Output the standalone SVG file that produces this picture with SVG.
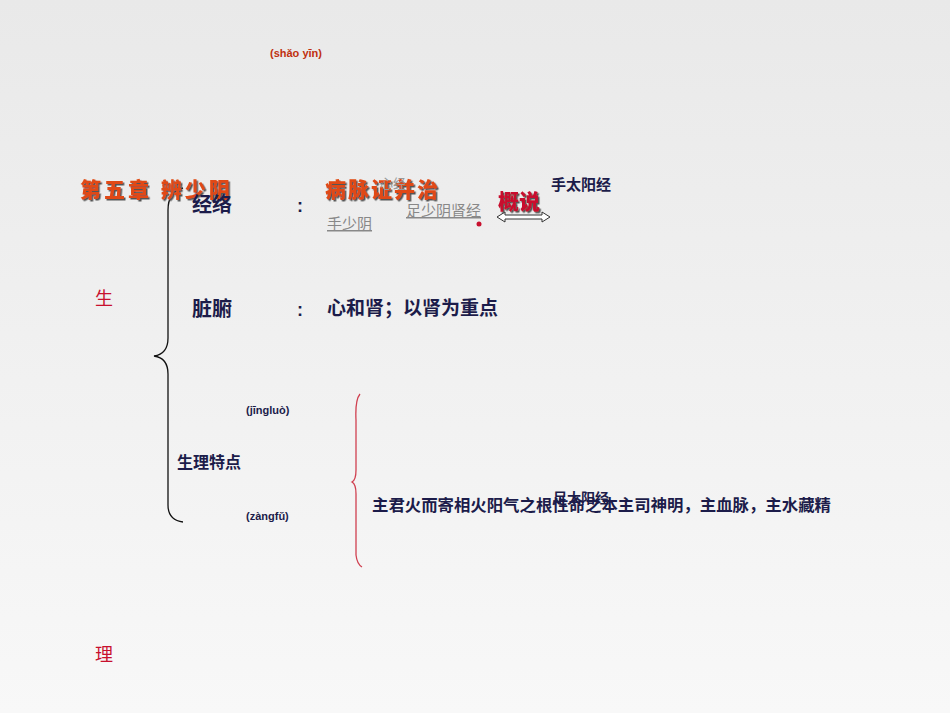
<svg xmlns="http://www.w3.org/2000/svg" width="950" height="713" viewBox="0 0 950 713">
<defs>
<linearGradient id="bg" x1="0" y1="0" x2="0" y2="1"><stop offset="0" stop-color="#e9e9e9"/><stop offset="1" stop-color="#f8f8f8"/></linearGradient>
<filter id="sh"><feDropShadow dx="1.5" dy="1.5" stdDeviation="0.5" flood-color="#555"/></filter>
</defs>
<style>
text{font-family:"Liberation Sans","Noto Sans CJK SC",sans-serif}
.d{fill:#1c1c4a;font-weight:bold}
.r{fill:#c8102e}
.o{fill:#e04a14;font-weight:900;font-size:21px;letter-spacing:3px;filter:url(#sh)}
.g{fill:#888;font-size:15px;text-decoration:underline}
.p{fill:#1c1c4a;font-size:11px;font-weight:bold}
</style>
<rect width="950" height="713" fill="url(#bg)"/>
<text x="270" y="57" font-size="11" fill="#c03010" font-weight="bold">(shǎo yīn)</text>
<g id="connectors" fill="none">
<path d="M183,188 Q168,192 168,210 L168,338 Q168,354 154,356 Q168,358 168,374 L168,505 Q168,520 183,522" stroke="#111" stroke-width="1.3"/>
<path d="M360,394 Q355,400 356,420 L356,470 Q356,480 352,482 Q356,484 356,494 L356,555 Q357,564 362,567" stroke="#d04050" stroke-width="1.3"/>
<path d="M497,217 L505,212 L505,215 L542,215 L542,212 L550,217 L542,222 L542,219 L505,219 L505,222 Z" stroke="#333" stroke-width="1" fill="#fff"/>
<circle cx="479" cy="224" r="2.5" fill="#c8102e"/>
</g>
<g id="title">
<text x="80" y="197" class="o">第五章 辨少阴</text>
<text x="325" y="197" class="o" style="letter-spacing:2px">病脉证并治</text>
<text x="380" y="188" font-size="13" fill="#999">心经</text>
<text x="498" y="209" font-size="21" font-weight="900" fill="#c8102e" style="filter:url(#sh)">概说</text>
</g>
<g id="jingluo">
<text x="192" y="212" class="d" font-size="20" font-weight="normal">经络</text>
<text x="297" y="212" class="d" font-size="18">:</text>
<text x="327" y="229" class="g">手少阴</text>
<text x="406" y="216" class="g">足少阴肾经</text>
<text x="551" y="190" class="d" font-size="15" font-weight="normal">手太阳经</text>
</g>
<g id="zangfu">
<text x="192" y="316" class="d" font-size="20" font-weight="normal">脏腑</text>
<text x="297" y="316" class="d" font-size="18">:</text>
<text x="327" y="315" class="d" font-size="19">心和肾；以肾为重点</text>
</g>
<g id="shengli">
<text x="95" y="305" class="r" font-size="18">生</text>
<text x="95" y="661" class="r" font-size="18">理</text>
<text x="246" y="414" class="p">(jīngluò)</text>
<text x="177" y="468" class="d" font-size="16">生理特点</text>
<text x="246" y="520" class="p">(zàngfǔ)</text>
<text x="553" y="503" class="d" font-size="14" font-weight="normal">足太阳经</text>
<text x="372" y="511" class="d" font-size="16.4">主君火而寄相火阳气之根性命之本主司神明，主血脉，主水藏精</text>
</g>
</svg>
